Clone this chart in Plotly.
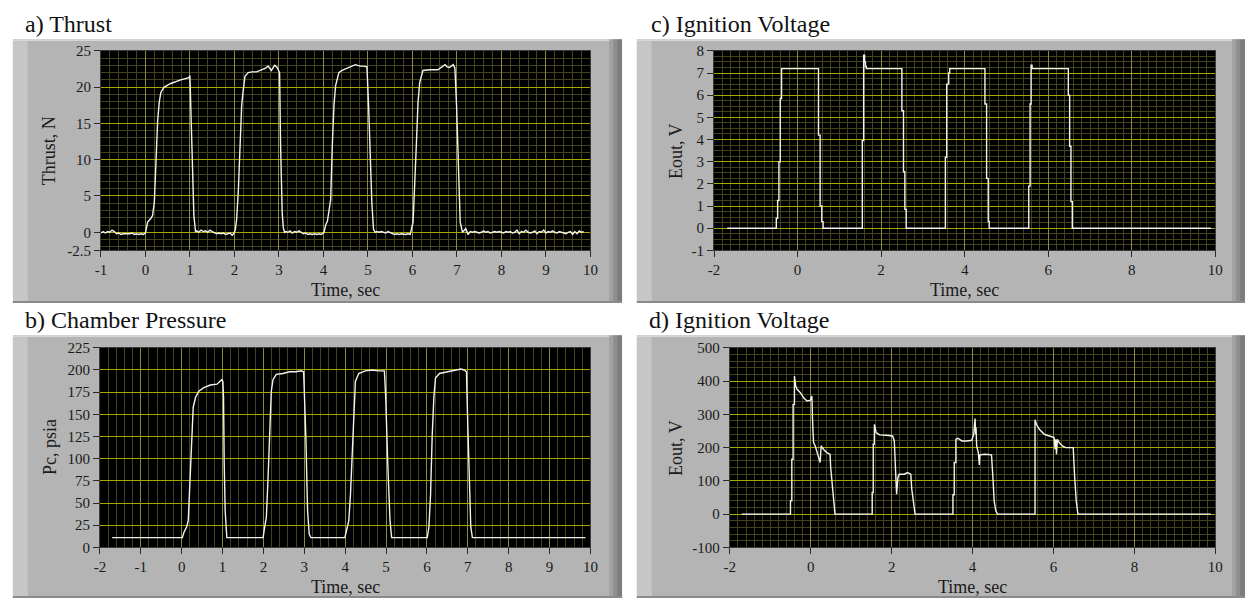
import plotly.graph_objects as go

# ---------------- data ----------------
thrust_t = [
    -1.00, -0.95, -0.90, -0.85, -0.80, -0.75, -0.70, -0.65, -0.60, -0.55, -0.50,
    -0.45, -0.40, -0.35, -0.30, -0.25, -0.20, -0.15, -0.10, -0.05, 0.00,
    0.05, 0.12, 0.16, 0.20, 0.237, 0.274, 0.31, 0.348, 0.422, 0.57, 0.793, 0.978,
    1.00, 1.015, 1.05, 1.089, 1.126,
    1.15, 1.20, 1.25, 1.30, 1.35, 1.40, 1.45, 1.50, 1.55, 1.60, 1.65, 1.70, 1.75,
    1.80, 1.85, 1.90, 1.95, 1.98,
    2.02, 2.05, 2.089, 2.126, 2.163, 2.20, 2.237, 2.311, 2.40, 2.496, 2.57, 2.644,
    2.70, 2.756, 2.83, 2.904, 2.95, 2.978, 3.015, 3.037, 3.074, 3.10, 3.126,
    3.15, 3.20, 3.25, 3.30, 3.35, 3.40, 3.45, 3.50, 3.55, 3.60, 3.65, 3.70, 3.75,
    3.80, 3.85, 3.90, 3.95,
    4.015, 4.05, 4.089, 4.13, 4.163, 4.20, 4.237, 4.274, 4.348, 4.42, 4.496, 4.57,
    4.644, 4.718, 4.77, 4.83, 4.90, 4.978, 5.015, 5.052, 5.089, 5.126, 5.163,
    5.20, 5.25, 5.30, 5.35, 5.40, 5.45, 5.50, 5.55, 5.60, 5.65, 5.70, 5.75, 5.80,
    5.85, 5.90, 5.95,
    6.015, 6.052, 6.089, 6.126, 6.163, 6.237, 6.385, 6.57, 6.681, 6.733, 6.78,
    6.83, 6.918, 6.955, 6.992, 7.03, 7.074, 7.126,
    7.15, 7.20, 7.25, 7.30, 7.35, 7.40, 7.45, 7.50, 7.55, 7.60, 7.65, 7.70, 7.75,
    7.80, 7.85, 7.90, 7.95, 8.00, 8.05, 8.10, 8.15, 8.20, 8.25, 8.30, 8.35, 8.40,
    8.45, 8.50, 8.55, 8.60, 8.65, 8.70, 8.75, 8.80, 8.85, 8.90, 8.95, 9.00, 9.05,
    9.10, 9.15, 9.20, 9.25, 9.30, 9.35, 9.40, 9.45, 9.50, 9.55, 9.60, 9.65, 9.70,
    9.75, 9.80, 9.85,
]
thrust_v = [
    -0.1, 0.1, -0.1, 0.1, 0.0, 0.3, 0.1, -0.2, -0.1, -0.3, -0.2,
    -0.2, -0.3, -0.2, -0.1, -0.3, -0.2, -0.3, -0.2, -0.3, -0.1,
    1.4, 1.9, 2.3, 4.1, 10.8, 15.3, 17.9, 19.3, 20.0, 20.5, 21.0, 21.3,
    21.6, 17.9, 10.8, 2.3, 0.1,
    0.2, 0.0, 0.3, 0.1, 0.2, 0.0, 0.3, 0.1, -0.1, -0.2, -0.1, -0.2, -0.1,
    -0.3, -0.2, -0.1, -0.4, -0.2,
    0.3, 1.8, 5.9, 12.1, 17.5, 19.7, 21.5, 22.0, 22.1, 22.1, 22.3, 22.4,
    22.6, 22.9, 22.3, 23.0, 22.8, 22.5, 22.0, 12.1, 2.6, 0.6, 0.0,
    0.1, 0.0, 0.2, -0.1, 0.1, 0.0, 0.2, 0.0, -0.2, -0.1, -0.3, -0.2, -0.3,
    -0.2, -0.3, -0.2, -0.3,
    0.0, 1.0, 1.5, 3.0, 4.5, 12.0, 17.5, 20.2, 22.0, 22.3, 22.5, 22.7,
    22.9, 23.1, 23.0, 22.9, 22.9, 22.8, 17.5, 10.8, 4.0, 0.4, 0.0,
    0.1, 0.0, 0.1, 0.0, -0.1, 0.1, 0.0, -0.2, -0.3, -0.2, -0.3, -0.2, -0.3,
    -0.3, -0.2, -0.3,
    1.4, 5.9, 12.1, 17.9, 20.6, 22.3, 22.4, 22.4, 22.8, 23.1, 22.8,
    22.7, 23.1, 22.6, 17.5, 8.5, 1.4, 0.0,
    0.2, 0.5, -0.3, 0.1, 0.0, 0.1, 0.0, -0.1, 0.0, 0.2, 0.0, 0.1, -0.1,
    0.0, 0.1, 0.0, 0.1, 0.0, -0.1, 0.1, 0.0, 0.1, -0.1, 0.0, 0.3, -0.2,
    0.1, 0.0, 0.3, 0.0, -0.1, 0.0, 0.2, -0.2, 0.1, 0.0, 0.3, -0.1, 0.1,
    0.0, 0.2, 0.0, -0.1, 0.1, 0.0, 0.0, -0.2, 0.0, 0.1, -0.3, 0.1, -0.2,
    0.2, 0.0, 0.1,
]

pressure_t = [
    -1.70,
    0.016, 0.056, 0.121, 0.161, 0.185, 0.217, 0.258, 0.282, 0.338, 0.419, 0.54,
    0.702, 0.863, 0.943, 0.983, 1.008, 1.024, 1.04, 1.064, 1.105,
    1.992, 2.032, 2.072, 2.113, 2.153, 2.193, 2.234, 2.314, 2.476, 2.637, 2.798,
    2.92, 2.984, 3.008, 3.04, 3.08, 3.121, 3.161,
    3.992, 4.033, 4.089, 4.129, 4.17, 4.21, 4.25, 4.331, 4.492, 4.654, 4.815,
    4.96, 4.992, 5.041, 5.097, 5.137,
    6.008, 6.049, 6.089, 6.129, 6.17, 6.21, 6.307, 6.508, 6.71, 6.831, 6.912,
    6.968, 6.992, 7.033, 7.073, 7.113,
    9.879,
]
pressure_v = [
    11,
    11, 17, 23, 30, 52, 96, 132, 158, 169, 176, 180,
    183, 184, 187, 189, 187, 169, 96, 41, 11,
    11, 23, 34, 78, 132, 176, 189, 195, 196, 198, 198,
    199, 198, 169, 122, 41, 15, 11,
    11, 19, 30, 59, 103, 162, 187, 196, 199, 200, 199,
    199, 169, 96, 30, 11,
    11, 23, 59, 125, 169, 191, 196, 198, 200, 201, 200,
    198, 151, 89, 23, 11,
    11,
]

# ignition voltage (low side) - stepped record
ign_lo_t = [
    -1.684, -0.509, -0.477, -0.446, -0.414, -0.383, 0.501, 0.54, 0.58, 0.611,
    1.55, 1.582, 1.605, 1.625, 1.645, 2.497, 2.536, 2.568, 2.6,
    3.538, 3.57, 3.617, 3.641, 4.485, 4.525, 4.564, 4.588,
    5.534, 5.566, 5.59, 5.613, 6.481, 6.513, 6.544, 6.576, 9.89,
]
ign_lo_v = [
    0, 0.45, 1.25, 3.0, 5.85, 7.2, 4.2, 1.0, 0.3, 0,
    3.95, 7.8, 7.5, 7.3, 7.2, 5.3, 2.55, 0.85, 0,
    3.2, 6.5, 7.0, 7.2, 5.6, 2.25, 0.3, 0,
    1.9, 5.6, 7.35, 7.2, 6.0, 3.7, 1.2, 0, 0,
]

# ignition voltage (high side)
ign_hi_t = [
    -1.707, -0.501, -0.501, -0.468, -0.468, -0.436, -0.436, -0.403, -0.403,
    -0.371, -0.338, -0.256, -0.175, -0.094, -0.012, 0.029, 0.045, 0.069, 0.11,
    0.151, 0.192, 0.232, 0.257, 0.314, 0.395, 0.477, 0.493, 0.542, 0.574, 0.599,
    1.519, 1.519, 1.545, 1.545, 1.57, 1.575, 1.617, 1.699, 1.862, 2.025, 2.065,
    2.09, 2.122, 2.155, 2.187, 2.31, 2.391, 2.473, 2.497, 2.546, 2.578,
    3.515, 3.515, 3.547, 3.547, 3.588, 3.588, 3.637, 3.735, 3.857, 3.979, 4.028,
    4.061, 4.077, 4.085, 4.101, 4.142, 4.167, 4.18, 4.305, 4.468, 4.509, 4.533,
    4.574, 4.615,
    5.543, 5.543, 5.576, 5.65, 5.772, 5.894, 6.016, 6.04, 6.057, 6.073, 6.097,
    6.138, 6.22, 6.301, 6.488, 6.521, 6.562, 6.603, 9.886,
]
ign_hi_v = [
    0, 0, 40, 40, 165, 165, 330, 330, 415,
    385, 375, 365, 350, 340, 342, 355, 280, 215, 205,
    190, 175, 155, 205, 195, 185, 180, 140, 70, 10, 0,
    0, 65, 65, 210, 210, 270, 245, 238, 237, 235, 220,
    140, 60, 110, 120, 120, 125, 120, 75, 30, 0,
    0, 58, 58, 155, 155, 225, 228, 220, 220, 222, 240,
    287, 240, 260, 205, 185, 148, 178, 180, 178, 97, 40,
    10, 0,
    0, 284, 270, 255, 240, 236, 230, 195, 225, 180, 225,
    215, 205, 200, 200, 115, 40, 0, 0,
]

# tick labels
thrust_ticks = [-2.5, 0, 5, 10, 15, 20, 25]
thrust_ticklabels = ["-2.5", "0", "5", "10", "15", "20", "25"]
time_a_ticks = [-1, 0, 1, 2, 3, 4, 5, 6, 7, 8, 9, 10]
time_b_ticks = [-2, -1, 0, 1, 2, 3, 4, 5, 6, 7, 8, 9, 10]
time_cd_ticks = [-2, 0, 2, 4, 6, 8, 10]
pressure_ticks = [0, 25, 50, 75, 100, 125, 150, 175, 200, 225]
ign_lo_ticks = [-1, 0, 1, 2, 3, 4, 5, 6, 7, 8]
ign_hi_ticks = [-100, 0, 100, 200, 300, 400, 500]

panel_titles = ["a) Thrust", "b) Chamber Pressure", "c) Ignition Voltage", "d) Ignition Voltage"]
y_titles = ["Thrust, N", "Pc, psia", "Eout, V", "Eout, V"]
x_title = "Time, sec"

# ---------------- layout helpers ----------------
W, H = 1253, 606
def fx(px):
    return px / W
def fy(py):
    return 1 - py / H

FONT = "Liberation Serif, Times New Roman, DejaVu Serif, serif"
MAJ_X = "#8a8a3c"
MAJ_Y = "#a8a800"
MINOR = "#44441c"
LINE = "#f2f2ee"

def lbl(v):
    return [str(x) for x in v]

# plot areas in pixels: (left, right, top, bottom)
areas = [(96, 591, 44, 249), (95, 591, 349, 554), (716, 1223, 44, 249), (732, 1223, 349, 554)]

fig = go.Figure()
series = [(thrust_t, thrust_v, "linear"), (pressure_t, pressure_v, "linear"),
          (ign_lo_t, ign_lo_v, "hv"), (ign_hi_t, ign_hi_v, "linear")]
for i, (t, v, shp) in enumerate(series):
    sfx = "" if i == 0 else str(i + 1)
    fig.add_trace(go.Scatter(x=t, y=v, mode="lines", line=dict(color=LINE, width=1.4, shape=shp),
                             xaxis="x" + sfx, yaxis="y" + sfx, showlegend=False, hoverinfo="skip"))

x_specs = [
    dict(range=[-1, 10], ticks_v=time_a_ticks, minor=0.2, minor0=-1),
    dict(range=[-2, 10], ticks_v=time_b_ticks, minor=0.2, minor0=-2),
    dict(range=[-2, 10], ticks_v=time_cd_ticks, minor=0.2, minor0=-2),
    dict(range=[-2, 10], ticks_v=time_cd_ticks, minor=0.2, minor0=-2),
]
y_specs = [
    dict(range=[-2.5, 25], ticks_v=thrust_ticks, ticks_t=thrust_ticklabels, minor=1, minor0=0),
    dict(range=[0, 225], ticks_v=pressure_ticks, ticks_t=lbl(pressure_ticks), minor=None, minor0=0),
    dict(range=[-1, 8], ticks_v=ign_lo_ticks, ticks_t=lbl(ign_lo_ticks), minor=0.25, minor0=0),
    dict(range=[-100, 500], ticks_v=ign_hi_ticks, ticks_t=lbl(ign_hi_ticks), minor=20, minor0=0),
]

layout = dict(
    width=W, height=H, margin=dict(l=0, r=0, t=0, b=0),
    paper_bgcolor="white", plot_bgcolor="black",
    font=dict(family=FONT, color="#1a1a1a"),
    shapes=[], annotations=[],
)

for i, ((l, r, t, b), xs, ys) in enumerate(zip(areas, x_specs, y_specs)):
    sfx = "" if i == 0 else str(i + 1)
    layout["xaxis" + sfx] = dict(
        domain=[fx(l), fx(r)], range=xs["range"], anchor="y" + sfx,
        tickmode="array", tickvals=xs["ticks_v"], ticktext=lbl(xs["ticks_v"]),
        showgrid=True, gridcolor=MAJ_X, gridwidth=1,
        minor=dict(tickmode="linear", tick0=xs["minor0"], dtick=xs["minor"], showgrid=True,
                   gridcolor=MINOR, gridwidth=1, ticks=""),
        ticks="outside", ticklen=6, tickcolor="#2a2a2a", tickwidth=1,
        tickfont=dict(family=FONT, size=15, color="#1a1a1a"),
        showline=True, linecolor="#3c3c3c", linewidth=1, mirror=True,
        zeroline=False, fixedrange=True,
    )
    ydict = dict(
        domain=[fy(b), fy(t)], range=ys["range"], anchor="x" + sfx,
        tickmode="array", tickvals=ys["ticks_v"], ticktext=ys["ticks_t"],
        showgrid=True, gridcolor=MAJ_Y, gridwidth=1,
        ticks="outside", ticklen=6, tickcolor="#2a2a2a", tickwidth=1,
        tickfont=dict(family=FONT, size=15, color="#1a1a1a"),
        showline=True, linecolor="#3c3c3c", linewidth=1, mirror=True,
        zeroline=False, fixedrange=True,
    )
    if ys["minor"] is not None:
        ydict["minor"] = dict(tickmode="linear", tick0=ys["minor0"], dtick=ys["minor"], showgrid=True,
                              gridcolor=MINOR, gridwidth=1, ticks="")
    layout["yaxis" + sfx] = ydict

# gray instrument-style frames
frames = [(7, 623, 32, 303), (7, 623, 336, 606), (638, 1253, 32, 303), (638, 1253, 336, 606)]
def rect(x0, x1, y0, y1, color):
    return dict(type="rect", xref="paper", yref="paper", x0=fx(x0), x1=fx(x1), y0=fy(y1), y1=fy(y0),
                fillcolor=color, line=dict(width=0), layer="below")
for (x0, x1, y0, y1) in frames:
    layout["shapes"] += [
        rect(x0, x1, y0, y1, "#b4b4b4"),
        rect(x0, x0 + 15, y0, y1, "#c6c6c6"),
        rect(x0, x1, y0, y0 + 2, "#d6d6d6"),
        rect(x1 - 13, x1 - 9, y0, y1, "#a2a2a2"),
        rect(x1 - 9, x1 - 5, y0, y1, "#8e8e8e"),
        rect(x1 - 5, x1, y0, y1, "#7c7c7c"),
        rect(x0, x1, y1 - 2, y1, "#8a8a8a"),
    ]
# black plot areas (drawn over the frames, below the grid)
for (l, r, t, b) in areas:
    layout["shapes"].append(rect(l, r, t, b, "black"))

# panel titles
title_pos = [(17, 16), (17, 320), (650, 16), (648, 320)]
for txt, (px, py) in zip(panel_titles, title_pos):
    layout["annotations"].append(dict(text=txt, x=fx(px), y=fy(py), xref="paper", yref="paper",
                                      xanchor="left", yanchor="middle", showarrow=False,
                                      font=dict(family=FONT, size=24, color="#111111")))
# axis titles
ytitle_pos = [(43, 146.5), (44, 451.5), (677, 146.5), (677, 451.5)]
for txt, (px, py) in zip(y_titles, ytitle_pos):
    layout["annotations"].append(dict(text=txt, x=fx(px), y=fy(py), xref="paper", yref="paper",
                                      xanchor="center", yanchor="middle", textangle=-90, showarrow=False,
                                      font=dict(family=FONT, size=18, color="#1a1a1a")))
xtitle_pos = [(343.5, 290), (343, 595), (969.5, 290), (977.5, 595)]
for (px, py) in xtitle_pos:
    layout["annotations"].append(dict(text=x_title, x=fx(px), y=fy(py), xref="paper", yref="paper",
                                      xanchor="center", yanchor="middle", showarrow=False,
                                      font=dict(family=FONT, size=18, color="#1a1a1a")))

fig.update_layout(**layout)
fig.write_html("out.html", config={"displayModeBar": False},
               post_script="document.body.style.margin='0px';")
